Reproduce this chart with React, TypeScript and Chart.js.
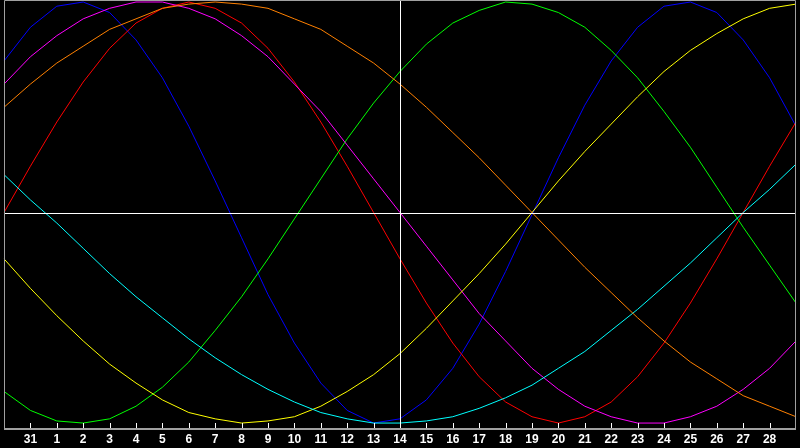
import { useEffect, useRef } from 'react';
import { Chart, registerables } from 'chart.js';

Chart.register(...registerables);

const dayLabels = ['30', '31', '1', '2', '3', '4', '5', '6', '7', '8', '9', '10', '11', '12', '13', '14', '15', '16', '17', '18', '19', '20', '21', '22', '23', '24', '25', '26', '27', '28', '29'];

const physical = [72, 88, 98, 100, 95, 82, 64, 41, 15, -12, -39, -62, -81, -94, -100, -98, -89, -74, -53, -28, -1, 26, 51, 72, 88, 98, 100, 95, 82, 64, 41];
const emotional = [0, 22, 43, 62, 78, 90, 97, 100, 97, 90, 78, 62, 43, 22, 0, -22, -43, -62, -78, -90, -97, -100, -97, -90, -78, -62, -43, -22, 0, 22, 43];
const intellectual = [-85, -94, -99, -100, -98, -92, -83, -71, -56, -40, -22, -3, 16, 35, 52, 67, 80, 90, 96, 100, 99, 95, 88, 77, 64, 48, 31, 12, -7, -25, -43];
const aesthetic = [-22, -36, -49, -61, -72, -81, -89, -95, -98, -100, -99, -97, -92, -85, -77, -67, -55, -42, -29, -15, 0, 15, 29, 42, 55, 67, 77, 85, 92, 97, 99];
const spiritual = [18, 6, -5, -17, -29, -40, -50, -60, -69, -77, -84, -90, -95, -98, -100, -100, -99, -97, -93, -88, -82, -74, -66, -56, -46, -35, -24, -12, 0, 11, 23];
const intuitive = [61, 74, 84, 92, 97, 100, 100, 97, 92, 84, 74, 61, 48, 32, 16, 0, -16, -32, -48, -61, -74, -84, -92, -97, -100, -100, -97, -92, -84, -74, -61];
const awareness = [50, 61, 71, 79, 87, 92, 97, 99, 100, 99, 97, 92, 87, 79, 71, 61, 50, 38, 26, 13, 0, -13, -26, -38, -50, -61, -71, -79, -87, -92, -97];

const todayIndex = 15;

export default function App() {
  const ref = useRef<HTMLCanvasElement>(null);

  useEffect(() => {
    document.body.style.margin = '0';
    document.body.style.background = '#000';
    const canvas = ref.current;
    if (!canvas) return;

    const framePlugin = {
      id: 'frame',
      beforeDraw(chart: any) {
        const ctx = chart.ctx;
        ctx.save();
        ctx.fillStyle = '#000';
        ctx.fillRect(0, 0, chart.width, chart.height);
        ctx.restore();
      },
      afterDatasetsDraw(chart: any) {
        const ctx = chart.ctx;
        const area = chart.chartArea;
        const xs = chart.scales.x;
        const ys = chart.scales.y;
        ctx.save();
        ctx.strokeStyle = '#ffffff';
        ctx.lineWidth = 1;
        const y0 = Math.round(ys.getPixelForValue(0)) + 0.5;
        ctx.beginPath();
        ctx.moveTo(area.left, y0);
        ctx.lineTo(area.right, y0);
        ctx.stroke();
        const xt = Math.round(xs.getPixelForValue(todayIndex)) + 0.5;
        ctx.beginPath();
        ctx.moveTo(xt, area.top);
        ctx.lineTo(xt, area.bottom);
        ctx.stroke();
        ctx.strokeStyle = '#a0a0a0';
        ctx.beginPath();
        ctx.moveTo(area.left + 0.5, area.bottom);
        ctx.lineTo(area.left + 0.5, area.top + 0.5);
        ctx.lineTo(area.right - 0.5, area.top + 0.5);
        ctx.lineTo(area.right - 0.5, area.bottom);
        ctx.stroke();
        ctx.fillStyle = '#a0a0a0';
        ctx.fillRect(area.left, area.bottom, area.right - area.left, 2);
        ctx.strokeStyle = '#ffffff';
        for (let i = 1; i < dayLabels.length - 1; i++) {
          const x = Math.round(xs.getPixelForValue(i)) + 0.5;
          ctx.beginPath();
          ctx.moveTo(x, area.bottom - 5);
          ctx.lineTo(x, area.bottom);
          ctx.stroke();
        }
        ctx.restore();
      },
    };

    const mk = (data: number[], color: string) => ({
      data,
      borderColor: color,
      backgroundColor: color,
      borderWidth: 1,
      pointRadius: 0,
      tension: 0,
      fill: false,
    });

    const chart = new Chart(canvas, {
      type: 'line',
      data: {
        labels: dayLabels,
        datasets: [
          mk(awareness, '#ff8000'),
          mk(spiritual, '#00ffff'),
          mk(aesthetic, '#ffff00'),
          mk(intuitive, '#ff00ff'),
          mk(intellectual, '#00ff00'),
          mk(emotional, '#ff0000'),
          mk(physical, '#0000ff'),
        ],
      },
      options: {
        animation: false,
        responsive: false,
        devicePixelRatio: 1,
        layout: { padding: 0 },
        plugins: {
          legend: { display: false },
          tooltip: { enabled: false },
        },
        scales: {
          x: {
            type: 'category',
            offset: false,
            grid: { display: false, drawTicks: false },
            border: { display: false },
            ticks: {
              autoSkip: false,
              maxRotation: 0,
              minRotation: 0,
              padding: 4,
              color: '#ffffff',
              font: { family: 'Liberation Sans', size: 12, weight: 'bold' },
              callback: (_v: any, i: number) => (i === 0 || i === dayLabels.length - 1 ? '' : dayLabels[i]),
            },
            afterFit: (scale: any) => {
              scale.height = 20;
            },
          },
          y: {
            display: false,
            min: -102.35,
            max: 100.95,
          },
        },
      },
      plugins: [framePlugin],
    } as any);

    return () => chart.destroy();
  }, []);

  return (
    <div style={{ width: 800, height: 448, background: '#000' }}>
      <canvas ref={ref} width={800} height={448} style={{ display: 'block' }} />
    </div>
  );
}
